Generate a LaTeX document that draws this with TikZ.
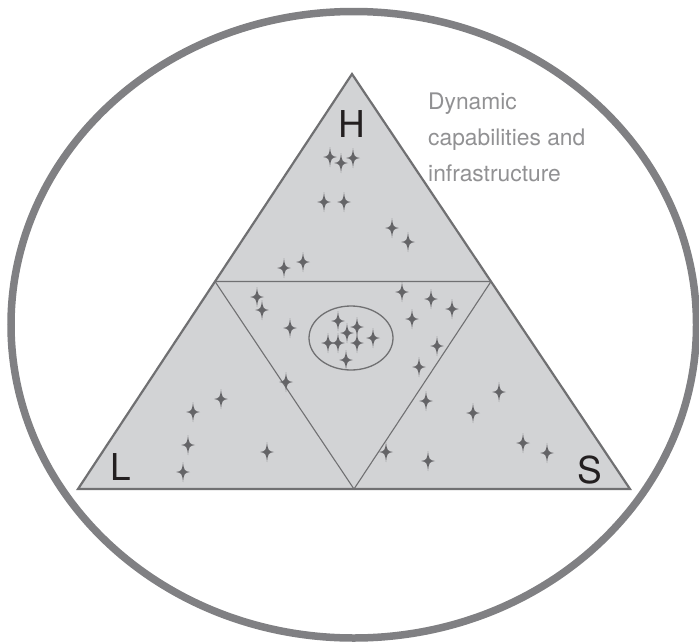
\documentclass[tikz,border=0pt]{standalone}
\usepackage{fontspec}
\setmainfont{TeX Gyre Heros}
\usetikzlibrary{calc}
\definecolor{panelgray}{RGB}{210,211,213}
\definecolor{rimgray}{RGB}{128,128,131}
\definecolor{edgegray}{RGB}{112,112,114}
\definecolor{sparkgray}{RGB}{100,100,103}
\definecolor{notegray}{RGB}{145,145,147}
\definecolor{lettergray}{RGB}{35,31,32}
\tikzset{sparkle/.pic={
    \fill[sparkgray] (0,-10) .. controls (0.8,-1.6) and (1.6,-0.8) .. (7,0)
        .. controls (1.6,0.8) and (0.8,1.6) .. (0,10)
        .. controls (-0.8,1.6) and (-1.6,0.8) .. (-7,0)
        .. controls (-1.6,-0.8) and (-0.8,-1.6) .. cycle;
}}
\tikzset{corner/.style={font=\fontsize{37}{37}\selectfont, text=lettergray, inner sep=0pt}}
\tikzset{note/.style={font=\fontsize{22.8}{36}\selectfont, text=notegray, align=left, inner sep=0pt}}

\begin{document}
\begin{tikzpicture}[x=1pt, y=-1pt]
    \useasboundingbox (0,0) rectangle (699,643);
    % outer ring
    \draw[rimgray, line width=7.5pt] (353.75,324.75) ellipse [x radius=342.75, y radius=313.25];

    % big triangle and its corners
    \coordinate (Htop) at (352,74);
    \coordinate (Lcor) at (78,489);
    \coordinate (Scor) at (630,489);
    \coordinate (Mleft) at ($(Htop)!0.5!(Lcor)$);
    \coordinate (Mright) at ($(Htop)!0.5!(Scor)$);
    \coordinate (Mbase) at ($(Lcor)!0.5!(Scor)$);
    \fill[panelgray] (Htop) -- (Lcor) -- (Scor) -- cycle;
    \draw[edgegray, line width=1.1pt] (Mleft) -- (Mright) -- (Mbase) -- cycle;
    \draw[edgegray, line width=2.2pt, line join=miter] (Htop) -- (Lcor) -- (Scor) -- cycle;

    % core
    \draw[edgegray, line width=1.3pt] (351,338) ellipse [x radius=42, y radius=32];

    \node[corner] (labH) at (352,124) {H};
    \node[corner] (labL) at (121,467) {L};
    \node[corner] (labS) at (590,470) {S};
    \node[note, anchor=north west] (dyncap) at (428,93)
        {Dynamic\\capabilities and\\infrastructure};

    % sparkles, region by region
    \foreach \p in {(330,157), (341,163), (353,158), (324,202), (344,202),
                    (392,228), (408,242), (284,268), (303,262)}
        \pic at \p {sparkle};
    \foreach \p in {(257,297), (262,310), (290,328), (286,382)}
        \pic at \p {sparkle};
    \foreach \p in {(338,321), (357,327), (347,333), (328,343), (338,343),
                    (357,343), (373,338), (346,360)}
        \pic at \p {sparkle};
    \foreach \p in {(402,292), (431,299), (452,309), (412,319), (437,346), (419,367)}
        \pic at \p {sparkle};
    \foreach \p in {(193,412), (221,399), (188,445), (183,472), (267,452)}
        \pic at \p {sparkle};
    \foreach \p in {(426,401), (499,392), (473,413), (523,443), (547,453),
                    (386,452), (428,461)}
        \pic at \p {sparkle};
\end{tikzpicture}
\end{document}
